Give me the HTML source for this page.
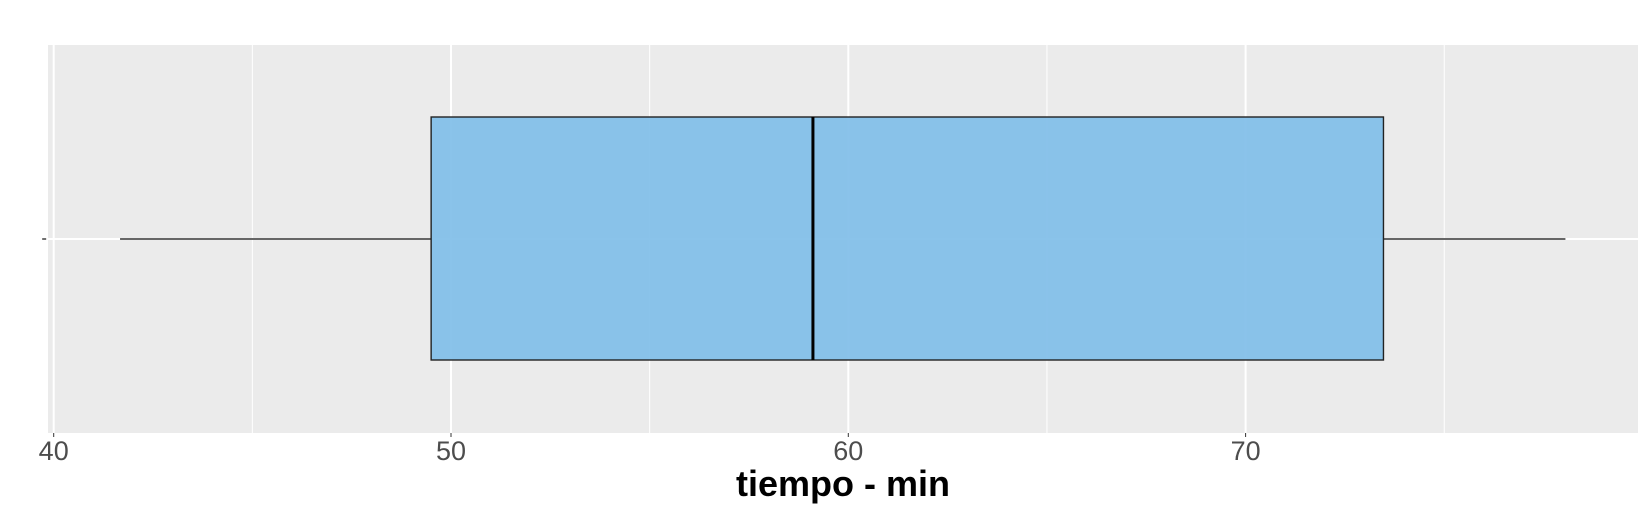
<!DOCTYPE html>
<html><head><meta charset="utf-8"><style>
html,body{margin:0;padding:0;background:#fff;}
svg{display:block;font-family:"Liberation Sans",sans-serif;}
</style></head><body>
<svg id="chart" width="1645" height="510" xmlns="http://www.w3.org/2000/svg">
<rect x="48" y="45" width="1590" height="388" fill="#ebebeb"/>
<g id="grid"></g>
<g id="marks"></g>
<g id="axis"></g>
<text x="843" y="496" text-anchor="middle" font-size="36" font-weight="bold" fill="#000">tiempo - min</text>
</svg>
<script>
const tickValues = [40, 50, 60, 70];
const minorValues = [45, 55, 65, 75];
const tickLabels = ["40", "50", "60", "70"];
const whiskerLow = [41.67];
const q1 = [49.5];
const median = [59.11];
const q3 = [73.47];
const whiskerHigh = [78.05];
const outliers = [39.76];

const NS = "http://www.w3.org/2000/svg";
const x = v => 53.7 + (v - 40) * 39.73;
const yc = 239, boxTop = 117, boxBot = 360, panelTop = 45, panelBot = 433;
function mk(tag, attrs, parent) {
  const e = document.createElementNS(NS, tag);
  for (const k in attrs) e.setAttribute(k, attrs[k]);
  document.getElementById(parent).appendChild(e);
  return e;
}
minorValues.forEach(v => {
  const l = mk("line", {x1: x(v), x2: x(v), y1: panelTop, y2: panelBot, stroke: "#fff", "stroke-width": 1}, "grid");
  
  
});
tickValues.forEach((v, i) => {
  const l = mk("line", {x1: x(v), x2: x(v), y1: panelTop, y2: panelBot, stroke: "#fff", "stroke-width": 2}, "grid");
  
  
  const t = mk("line", {x1: x(v), x2: x(v), y1: panelBot, y2: panelBot + 4, stroke: "#333", "stroke-width": 1}, "axis");
  
  
  const tx = mk("text", {x: x(v), y: 460, "text-anchor": "middle", "font-size": 27, fill: "#4d4d4d"}, "axis");
  tx.textContent = tickLabels[i];
  
  
});
const hg = mk("line", {x1: 48, x2: 1638, y1: yc, y2: yc, stroke: "#fff", "stroke-width": 2}, "grid");



for (let i = 0; i < q1.length; i++) {
  const w1 = mk("line", {x1: x(whiskerLow[i]), x2: x(q1[i]), y1: yc, y2: yc, stroke: "#333", "stroke-width": 1.4}, "marks");
  
  
  const w2 = mk("line", {x1: x(q3[i]), x2: x(whiskerHigh[i]), y1: yc, y2: yc, stroke: "#333", "stroke-width": 1.4}, "marks");
  
  
  const b = mk("rect", {x: x(q1[i]), y: boxTop, width: x(q3[i]) - x(q1[i]), height: boxBot - boxTop, fill: "rgba(128,190,232,0.92)", stroke: "#222", "stroke-width": 1.4}, "marks");
  
  
  const m = mk("line", {x1: x(median[i]), x2: x(median[i]), y1: boxTop, y2: boxBot, stroke: "#000", "stroke-width": 3}, "marks");
  
  
}
outliers.forEach(v => {
  const o = mk("line", {x1: x(v) - 2, x2: x(v) + 2, y1: yc, y2: yc, stroke: "#333", "stroke-width": 1.4}, "marks");
  
  
});
</script>
</body></html>
